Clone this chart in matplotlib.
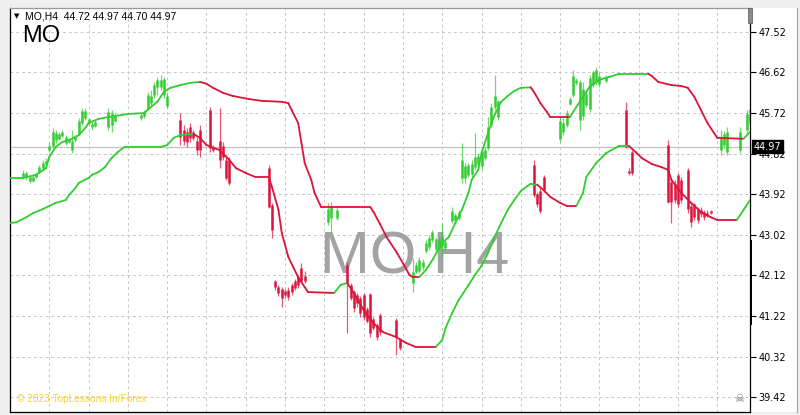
import matplotlib
matplotlib.use("Agg")
import matplotlib.pyplot as plt
from matplotlib.collections import LineCollection
from matplotlib.patches import Rectangle
import numpy as np

# ---------------- data ----------------
symbol = "MO"
period = "H4"
header_ohlc = [44.72, 44.97, 44.70, 44.97]
last_price = 44.97
y_ticks = [47.52, 46.62, 45.72, 44.82, 43.92, 43.02, 42.12, 41.22, 40.32, 39.42]
copyright_text = "© 2023 TopLessons.In/Forex"
n_bars = 226
grid_every = 12

# upper channel line (bar index, price); trend switches at given bars (1 = up/green first)
upper_idx = [0, 4, 8, 11, 12, 14, 16, 18, 21, 23, 24, 27, 30, 36, 41, 42, 45, 47, 49, 52,
             55, 58, 60, 62, 65, 68, 73, 77, 83, 85, 86, 88, 89, 90, 92, 93, 95, 110, 111, 113,
             115, 118, 120, 122, 123, 125, 127, 129, 132, 134, 136, 138, 140, 141, 143, 144, 146, 148, 150, 152,
             154, 156, 159, 160, 162, 164, 165, 171, 173, 175, 177, 180, 183, 186, 195, 196, 198, 202, 205, 207,
             209, 211, 213, 215, 216, 224, 226]
upper_val = [44.28, 44.28, 44.35, 44.50, 44.75, 44.97, 45.08, 45.12, 45.23, 45.39, 45.50, 45.59, 45.63, 45.70, 45.72, 45.79, 45.97, 46.19, 46.28, 46.34,
             46.39, 46.41, 46.37, 46.28, 46.17, 46.10, 46.03, 45.99, 45.97, 45.94, 45.79, 45.50, 45.06, 44.61, 44.24, 43.95, 43.64, 43.64, 43.53, 43.26,
             42.97, 42.64, 42.39, 42.13, 42.08, 42.08, 42.24, 42.46, 42.84, 42.97, 43.28, 43.57, 43.95, 44.24, 44.46, 44.83, 45.28, 45.68, 45.97, 46.10,
             46.21, 46.28, 46.29, 46.19, 45.94, 45.74, 45.63, 45.63, 45.86, 46.08, 46.30, 46.46, 46.52, 46.59, 46.59, 46.54, 46.41, 46.34, 46.32, 46.28,
             46.08, 45.79, 45.50, 45.28, 45.17, 45.15, 45.30]
upper_switch = [58, 125, 159, 171, 195, 224]

lower_idx = [0, 2, 5, 7, 10, 12, 14, 17, 18, 20, 21, 24, 25, 27, 29, 31, 33, 35, 46, 48,
             50, 52, 56, 58, 60, 64, 67, 69, 72, 75, 79, 80, 82, 83, 85, 88, 91, 99, 101, 103,
             105, 108, 111, 114, 118, 121, 124, 130, 132, 133, 135, 137, 140, 142, 144, 146, 148, 150, 152, 154,
             156, 158, 159, 161, 163, 165, 168, 170, 173, 175, 176, 179, 182, 186, 189, 191, 193, 196, 199, 201,
             202, 205, 208, 211, 214, 216, 222, 224, 226]
lower_val = [43.28, 43.30, 43.41, 43.50, 43.59, 43.66, 43.73, 43.79, 43.90, 44.06, 44.17, 44.28, 44.35, 44.41, 44.52, 44.72, 44.86, 44.97, 44.97, 45.01,
             45.17, 45.23, 45.26, 45.17, 45.01, 44.90, 44.68, 44.50, 44.39, 44.30, 44.30, 44.08, 43.57, 43.06, 42.53, 42.08, 41.75, 41.73, 41.91, 41.95,
             41.73, 41.35, 41.06, 40.86, 40.75, 40.62, 40.53, 40.53, 40.69, 40.95, 41.28, 41.57, 41.90, 42.13, 42.33, 42.62, 42.97, 43.28, 43.57, 43.79,
             43.99, 44.10, 44.15, 44.13, 44.01, 43.86, 43.73, 43.66, 43.66, 43.95, 44.30, 44.61, 44.83, 44.99, 44.99, 44.86, 44.72, 44.59, 44.52, 44.46,
             44.24, 43.95, 43.73, 43.53, 43.41, 43.35, 43.35, 43.57, 43.79]
lower_switch = [56, 99, 103, 130, 161, 173, 189, 222]

# green (up-trend) bars
g_idx = [4, 5, 6, 7, 8, 9, 10, 11, 12, 13, 14, 15, 16, 17, 18, 19, 20, 21, 22, 23, 24, 25, 26, 30, 31, 32,
         40, 41, 42, 43, 44, 45, 46, 47, 48,
         97, 98, 100,
         123, 124, 125, 126, 127, 128, 129, 130, 131, 132, 133, 135, 136, 137, 138, 139, 140, 141, 142, 143, 144, 145, 146, 147, 148, 149,
         168, 169, 170, 171, 172, 173, 174, 175, 176, 177, 178, 179, 180, 182,
         217, 218, 219, 223, 225, 226]
g_open = [44.30, 44.40, 44.30, 44.22, 44.30, 44.42, 44.50, 44.60, 44.90, 45.00, 45.28, 45.14, 45.22, 45.20, 45.08, 45.10, 45.12, 45.26, 45.50, 45.76, 45.58, 45.40, 45.44, 45.40, 45.72, 45.55,
          45.60, 45.66, 45.82, 46.10, 46.12, 46.30, 46.45, 46.48, 46.10,
          43.30, 43.40, 43.40,
          41.95, 42.20, 42.22, 42.30, 42.66, 42.75, 42.90, 42.92, 42.72, 42.80, 42.72, 43.32, 43.34, 43.40, 44.28, 44.28, 44.35, 44.36, 44.52, 44.58, 44.55, 44.72, 44.95, 45.45, 45.85, 45.64,
          45.15, 45.30, 45.45, 45.93, 46.12, 46.38, 45.57, 45.65, 45.90, 45.80, 46.35, 46.40, 46.36, 46.43,
          44.90, 45.01, 44.86, 44.90, 45.35, 45.50]
g_high = [44.46, 44.44, 44.35, 44.37, 44.41, 44.57, 44.68, 44.72, 45.06, 45.39, 45.35, 45.30, 45.35, 45.23, 45.17, 45.35, 45.23, 45.61, 45.83, 45.83, 45.61, 45.52, 45.57, 45.83, 45.79, 45.72,
          45.72, 45.79, 46.19, 46.23, 46.41, 46.52, 46.57, 46.52, 46.19,
          43.73, 43.75, 43.66,
          42.50, 42.42, 42.53, 42.48, 42.90, 43.02, 43.13, 42.97, 42.97, 43.28, 42.90, 43.64, 43.50, 43.57, 45.06, 44.61, 44.61, 44.68, 45.28, 44.83, 44.97, 44.97, 45.63, 45.94, 46.57, 46.01,
          45.63, 45.61, 45.79, 46.08, 46.68, 46.50, 46.45, 46.41, 46.23, 46.57, 46.68, 46.75, 46.61, 46.57,
          45.35, 45.32, 45.41, 45.41, 45.79, 45.86]
g_low = [44.26, 44.24, 44.17, 44.19, 44.28, 44.39, 44.43, 44.52, 44.86, 44.95, 45.06, 45.12, 45.19, 45.01, 45.06, 44.83, 45.08, 45.23, 45.46, 45.57, 45.46, 45.35, 45.41, 45.35, 45.30, 45.52,
         45.57, 45.61, 45.79, 45.86, 46.06, 46.12, 46.23, 46.06, 45.83,
         43.24, 43.08, 43.35,
         41.75, 42.17, 42.17, 42.24, 42.62, 42.68, 42.86, 42.62, 42.68, 42.53, 42.68, 43.28, 43.28, 43.35, 44.17, 44.17, 44.30, 44.30, 44.46, 44.52, 44.46, 44.68, 44.90, 45.41, 45.79, 45.57,
         45.08, 45.23, 45.41, 45.90, 46.08, 46.34, 45.35, 45.57, 45.86, 45.74, 46.30, 46.34, 46.30, 46.39,
         44.79, 44.95, 44.79, 44.83, 45.28, 45.41]
g_close = [44.40, 44.30, 44.22, 44.30, 44.36, 44.52, 44.62, 44.66, 45.00, 45.30, 45.12, 45.26, 45.30, 45.05, 45.14, 44.90, 45.20, 45.55, 45.76, 45.62, 45.50, 45.48, 45.52, 45.75, 45.45, 45.66,
           45.68, 45.74, 46.12, 45.95, 46.35, 46.46, 46.30, 46.12, 45.88,
           43.60, 43.66, 43.57,
           42.20, 42.35, 42.46, 42.42, 42.84, 42.95, 43.08, 42.70, 42.90, 43.00, 42.86, 43.55, 43.46, 43.52, 44.68, 44.55, 44.56, 44.60, 44.75, 44.76, 44.88, 44.90, 45.41, 45.85, 46.10, 45.98,
           45.55, 45.50, 45.72, 46.04, 46.55, 46.46, 46.40, 46.25, 46.15, 46.50, 46.62, 46.68, 46.55, 46.52,
           45.20, 45.25, 45.30, 45.30, 45.70, 45.80]

# red (down-trend) bars
r_idx = [52, 53, 54, 55, 56, 57, 58, 61, 62, 64, 65, 66, 67,
         79, 80, 81, 82, 83, 84, 85, 86, 87, 88, 89, 90,
         103, 104, 105, 106, 107, 108, 109, 110, 111, 112, 113, 118, 119,
         160, 161, 162, 163,
         188, 189, 190,
         201, 202, 203, 204, 205, 207, 208, 209, 210, 211, 212, 213, 214]
r_open = [45.57, 45.35, 45.30, 45.42, 45.30, 45.10, 45.35, 45.79, 44.97, 45.10, 44.99, 44.68, 44.68,
          44.50, 43.68, 41.99, 41.86, 41.82, 41.77, 41.80, 41.90, 41.99, 42.08, 42.28, 42.10,
          42.35, 41.90, 41.75, 41.68, 41.62, 41.68, 41.38, 41.70, 41.15, 41.02, 41.24, 41.13, 40.70,
          44.57, 43.92, 44.00, 44.30,
          45.79, 44.44, 44.85,
          45.01, 44.19, 44.15, 44.35, 44.24, 44.46, 43.66, 43.70, 43.60, 43.57, 43.52, 43.50, 43.54]
r_high = [45.72, 45.46, 45.39, 45.50, 45.35, 45.19, 45.46, 45.86, 45.01, 45.83, 45.08, 44.79, 44.75,
          44.57, 43.73, 42.02, 41.91, 41.86, 41.82, 41.86, 41.95, 42.04, 42.13, 42.39, 42.21,
          42.42, 41.95, 41.79, 41.73, 41.66, 41.73, 41.42, 41.73, 41.20, 41.06, 41.28, 41.17, 40.73,
          44.68, 43.97, 44.08, 44.35,
          45.97, 44.50, 44.90,
          45.12, 44.24, 44.24, 44.39, 44.30, 44.50, 43.73, 43.73, 43.64, 43.64, 43.57, 43.57, 43.57]
r_low = [45.01, 45.01, 44.97, 45.08, 45.12, 44.79, 44.75, 44.86, 44.86, 44.50, 44.68, 44.24, 44.13,
         43.61, 42.95, 41.79, 41.66, 41.42, 41.62, 41.57, 41.68, 41.79, 41.84, 41.95, 41.95,
         40.84, 41.57, 41.31, 41.42, 41.20, 41.13, 41.06, 40.75, 40.91, 40.69, 40.80, 40.35, 40.46,
         43.86, 43.64, 43.50, 43.97,
         44.95, 44.35, 44.35,
         43.73, 43.28, 43.73, 43.64, 43.73, 43.50, 43.19, 43.35, 43.28, 43.41, 43.35, 43.41, 43.48]
r_close = [45.19, 45.10, 45.08, 45.17, 45.17, 44.90, 44.90, 44.95, 44.90, 44.68, 44.75, 44.28, 44.17,
           43.64, 43.13, 41.86, 41.73, 41.62, 41.68, 41.64, 41.75, 41.84, 41.90, 41.99, 42.00,
           41.95, 41.62, 41.40, 41.50, 41.28, 41.20, 41.10, 40.84, 40.95, 40.75, 40.86, 40.75, 40.50,
           43.90, 43.70, 43.55, 44.01,
           44.97, 44.40, 44.40,
           43.75, 43.75, 43.79, 43.70, 43.79, 43.60, 43.30, 43.42, 43.35, 43.48, 43.42, 43.46, 43.50]

# ---------------- style ----------------
GREEN = "#32CD32"
RED = "#DC143C"
W, H = 800, 415
fig = plt.figure(figsize=(W / 100, H / 100), dpi=100, facecolor="#f0f0f0")

ax_l, ax_r, ax_t, ax_b = 10, 750, 8, 412
ax = fig.add_axes([ax_l / W, 1 - ax_b / H, (ax_r - ax_l) / W, (ax_b - ax_t) / H])
ax.set_facecolor("white")

# white price-scale panel
fig.add_artist(Rectangle((ax_r / W, 1 - ax_b / H), 47 / W, (ax_b - ax_t) / H,
                         transform=fig.transFigure, facecolor="white", edgecolor="none", zorder=-5))
fig.add_artist(plt.Line2D([797 / W, 797 / W], [1 - ax_b / H, 1 - ax_t / H], transform=fig.transFigure,
                          color="#a0a0a0", lw=0.8))

ax.set_xlim(0, n_bars)
ax.set_ylim(39.09, 48.05)

# grid
for k in range(grid_every, n_bars, grid_every):
    ax.axvline(k, color="#c8c8c8", lw=0.7, ls=(0, (3, 3)), zorder=0.5)
for t in y_ticks:
    ax.axhline(t, color="#c8c8c8", lw=0.7, ls=(0, (3, 3)), zorder=0.5)

# current price line
ax.axhline(last_price, color="#c4c4c4", lw=0.9, zorder=0.6)

# watermark
ax.text(0.547, 0.381, f"{symbol} {period}", transform=ax.transAxes, fontsize=43,
        family="Liberation Sans", color="#a3a3a3", ha="center", va="center", zorder=1)


def trend_segments(idx, val, switches):
    pts = np.column_stack([idx, val])
    segs = [pts[k:k + 2] for k in range(len(idx) - 1)]
    cols = []
    for k in range(len(idx) - 1):
        n = sum(1 for s in switches if s <= idx[k])
        cols.append(GREEN if n % 2 == 0 else RED)
    return segs, cols


def draw_bars(idx, o, h, l, c, color):
    idx = np.asarray(idx, float)
    o, h, l, c = map(np.asarray, (o, h, l, c))
    ax.vlines(idx, l, h, color=color, lw=0.9, alpha=0.7, zorder=4)
    ax.vlines(idx, np.minimum(o, c), np.maximum(o, c), color=color, lw=1.8, zorder=5)


draw_bars(g_idx, g_open, g_high, g_low, g_close, GREEN)
draw_bars(r_idx, r_open, r_high, r_low, r_close, RED)

for idx, val, sw in ((upper_idx, upper_val, upper_switch), (lower_idx, lower_val, lower_switch)):
    segs, cols = trend_segments(idx, val, sw)
    lc = LineCollection(segs, colors=cols, linewidths=1.3, zorder=6, capstyle="round", joinstyle="round")
    ax.add_collection(lc)

# axes styling
ax.yaxis.tick_right()
ax.set_yticks(y_ticks)
ax.set_yticklabels([f"{t:.2f}" for t in y_ticks])
ax.tick_params(axis="y", direction="out", length=4, width=0.8, pad=2, labelsize=7, colors="black")
ax.set_xticks([])
for name, sp in ax.spines.items():
    sp.set_linewidth(0.9)
    sp.set_color("#000000")
ax.spines["top"].set_color("#9a9a9a")

# current price tag
ax.text(1.005, last_price, f"{last_price:.2f}", transform=ax.get_yaxis_transform(), fontsize=7,
        color="white", va="center", ha="left", clip_on=False, zorder=20,
        bbox=dict(boxstyle="square,pad=0.15", facecolor="black", edgecolor="black"))

# header texts
ax.text(0.006, 0.98, "\u25BC", transform=ax.transAxes, fontsize=5, color="black", va="center", ha="left")
ax.text(0.02, 0.98, f"{symbol},{period}  " + " ".join(f"{v:.2f}" for v in header_ohlc),
        transform=ax.transAxes, fontsize=7.5, family="Liberation Sans", color="black", va="center", ha="left")
ax.text(0.016, 0.93, symbol, transform=ax.transAxes, fontsize=17, family="Liberation Sans",
        color="black", va="center", ha="left")

# copyright
ax.text(0.009, 0.032, copyright_text, transform=ax.transAxes, fontsize=7.3, family="Liberation Sans",
        color="#f5d23a", va="center", ha="left", zorder=7)

# skull icon
ax.text(0.985, 0.033, "\u2620", transform=ax.transAxes, fontsize=8, color="#707070",
        va="center", ha="center", family="DejaVu Sans", zorder=7)

# small decorations on the right border
fig.add_artist(Rectangle((748 / W, 1 - 23 / H), 4 / W, 15 / H, transform=fig.transFigure,
                         facecolor="#8a8a8a", edgecolor="#555555", lw=0.5, zorder=10))
fig.add_artist(Rectangle((749.5 / W, 1 - 325 / H), 2.5 / W, 85 / H, transform=fig.transFigure,
                         facecolor="black", edgecolor="none", zorder=10))

fig.savefig("out.png", dpi=100, facecolor=fig.get_facecolor())
